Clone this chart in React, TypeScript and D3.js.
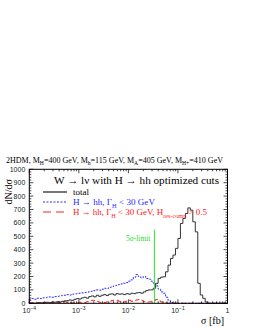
import React, { useEffect, useRef } from "react";
import * as d3 from "d3";

// histogram binning: log-uniform bins from 1e-4 to 1 fb
const binsPerDecade = 20;
const xDomain = [1e-4, 1];

// bin contents (80 bins)
const totalCounts = [
  0, 2, 0, 3, 5, 2, 5, 8, 5, 10, 8, 12, 10, 15, 18, 20, 25, 22, 30, 35,
  32, 40, 45, 38, 50, 55, 48, 60, 52, 60, 65, 58, 68, 70, 62, 72, 68, 70, 65, 72,
  68, 75, 72, 78, 80, 75, 85, 95, 100, 100, 112, 149, 186, 195, 198, 235, 285, 335, 360, 410,
  484, 596, 633, 670, 712, 695, 608, 533, 149, 62, 37, 10, 0, 0, 0, 0, 0, 0, 0, 0,
];
const hhCounts = [
  30, 35, 30, 38, 35, 40, 42, 45, 48, 45, 50, 52, 55, 58, 60, 65, 62, 68, 70, 72,
  75, 78, 80, 82, 88, 90, 95, 100, 98, 105, 112, 110, 118, 125, 130, 135, 140, 145, 150, 155,
  165, 175, 195, 215, 200, 190, 200, 185, 180, 165, 150, 130, 105, 85, 75, 45, 20, 5, 0, 0,
  0, 0, 0, 0, 0, 0, 0, 0, 0, 0, 0, 0, 0, 0, 0, 0, 0, 0, 0, 0,
];
const resCompCounts = [
  5, 3, 8, 5, 3, 6, 8, 4, 5, 8, 10, 6, 4, 8, 12, 6, 5, 3, 2, 4,
  8, 5, 6, 12, 18, 22, 20, 14, 8, 10, 6, 10, 12, 20, 25, 22, 15, 8, 10, 18,
  22, 15, 20, 25, 28, 22, 12, 8, 10, 15, 20, 28, 18, 10, 5, 2, 0, 0, 0, 0,
  0, 0, 0, 0, 0, 0, 0, 0, 0, 0, 0, 0, 0, 0, 0, 0, 0, 0, 0, 0,
];

const yTicks = [0, 100, 200, 300, 400, 500, 600, 700, 800, 900, 1000];
const xTickExponents = [-4, -3, -2, -1, 0];

const limitSigma = 0.0335;
const limitHeight = 550;

type Part = [string, "n" | "sub" | "sup"];

// text with sub/superscripts as tspans; optional fitted width
function richText(
  g: any,
  x: number,
  y: number,
  parts: Part[],
  size: number,
  fill: string,
  anchor = "start",
  width?: number
) {
  const t = g
    .append("text")
    .attr("x", x)
    .attr("y", y)
    .attr("font-family", "Liberation Serif, Times New Roman, serif")
    .attr("font-size", size)
    .attr("fill", fill)
    .attr("text-anchor", anchor);
  if (width) t.attr("textLength", width).attr("lengthAdjust", "spacingAndGlyphs");
  let shift = 0;
  parts.forEach(([s, kind]) => {
    const target = kind === "sub" ? size * 0.3 : kind === "sup" ? -size * 0.4 : 0;
    t.append("tspan")
      .attr("dy", target - shift)
      .attr("font-size", kind === "n" ? size : size * 0.7)
      .text(s);
    shift = target;
  });
  return t;
}

const App = () => {
  const chartRef = useRef<SVGSVGElement>(null);

  useEffect(() => {
    const svg = d3.select(chartRef.current);
    svg.selectAll("*").remove();

    const left = 29.3, right = 227.5, top = 169.3, bottom = 303.3;

    const x = d3.scaleLog().domain(xDomain).range([left, right]);
    const y = d3.scaleLinear().domain([0, 1000]).range([bottom, top]);

    const edges = d3.range(totalCounts.length + 1).map((i) => Math.pow(10, -4 + i / binsPerDecade));

    const stepLine = (counts: number[]) => {
      const pts: [number, number][] = [[edges[0], 0]];
      counts.forEach((c, i) => pts.push([edges[i], c]));
      pts.push([edges[counts.length], counts[counts.length - 1]]);
      return d3
        .line<[number, number]>()
        .x((d) => x(d[0]))
        .y((d) => y(d[1]))
        .curve(d3.curveStepAfter)(pts);
    };

    const sans = "Liberation Sans, Arial, sans-serif";

    // histograms
    svg.append("path")
      .attr("d", stepLine(resCompCounts))
      .attr("fill", "none")
      .attr("stroke", "#ff2020")
      .attr("stroke-width", 1)
      .attr("stroke-dasharray", "5,3");

    svg.append("path")
      .attr("d", stepLine(hhCounts))
      .attr("fill", "none")
      .attr("stroke", "#2a2aff")
      .attr("stroke-width", 1)
      .attr("stroke-dasharray", "2,1.5");

    svg.append("path")
      .attr("d", stepLine(totalCounts))
      .attr("fill", "none")
      .attr("stroke", "#333")
      .attr("stroke-width", 1);

    // 5 sigma limit
    svg.append("line")
      .attr("x1", x(limitSigma)).attr("x2", x(limitSigma))
      .attr("y1", y(0)).attr("y2", y(limitHeight))
      .attr("stroke", "#22ee22")
      .attr("stroke-width", 1);
    richText(svg, x(limitSigma) - 4, 241, [["5σ-limit", "n"]], 7.5, "#22dd22", "end");

    // frame
    svg.append("rect")
      .attr("x", left).attr("y", top)
      .attr("width", right - left).attr("height", bottom - top)
      .attr("fill", "none").attr("stroke", "#000").attr("stroke-width", 1);

    const ticks = svg.append("g").attr("stroke", "#000").attr("stroke-width", 0.7);

    // y ticks (major every 100, minor every 20)
    d3.range(0, 1001, 20).forEach((v) => {
      const len = v % 100 === 0 ? 4 : 2;
      ticks.append("line").attr("x1", left).attr("x2", left + len).attr("y1", y(v)).attr("y2", y(v));
      ticks.append("line").attr("x1", right).attr("x2", right - len).attr("y1", y(v)).attr("y2", y(v));
    });

    // x log ticks
    xTickExponents.forEach((e) => {
      if (e === 0) return;
      for (let m = 1; m <= 9; m++) {
        const v = m * Math.pow(10, e);
        const len = m === 1 ? 4 : 2;
        ticks.append("line").attr("x1", x(v)).attr("x2", x(v)).attr("y1", bottom).attr("y2", bottom - len);
        ticks.append("line").attr("x1", x(v)).attr("x2", x(v)).attr("y1", top).attr("y2", top + len);
      }
    });

    // y tick labels
    svg.append("g")
      .selectAll("text")
      .data(yTicks)
      .join("text")
      .attr("x", left - 4)
      .attr("y", (d) => y(d) + 2.5)
      .attr("text-anchor", "end")
      .attr("font-family", sans)
      .attr("font-size", 7)
      .attr("fill", "#222")
      .text((d) => d);

    // x tick labels
    xTickExponents.forEach((e) => {
      const t = svg.append("text")
        .attr("x", x(Math.pow(10, e)))
        .attr("y", 313)
        .attr("text-anchor", "middle")
        .attr("font-family", sans)
        .attr("font-size", 7)
        .attr("fill", "#222");
      if (e === 0) {
        t.text("1");
      } else {
        t.append("tspan").text("10");
        t.append("tspan").attr("dy", -3).attr("font-size", 5).text("\u2212" + -e);
      }
    });

    // axis titles
    richText(svg, 224, 324, [["σ [fb]", "n"]], 10, "#000", "end");
    richText(svg, 0, 0, [["dN/dσ", "n"]], 10, "#000", "end")
      .attr("transform", "translate(12,179) rotate(-90)");

    // headers
    richText(svg, 6, 163, [
      ["2HDM, M", "n"], ["H", "sub"], ["=400 GeV, M", "n"], ["h", "sub"],
      ["=115 GeV, M", "n"], ["A", "sub"], ["=405 GeV, M", "n"], ["H+", "sub"], ["=410 GeV", "n"],
    ], 8, "#000", "start", 217);
    richText(svg, 54, 184, [["W → lν with H → hh optimized cuts", "n"]], 10.5, "#000", "start", 165);

    // legend
    const legend = [
      { parts: [["total", "n"]] as Part[], color: "#555", text: "#000", dash: null, y: 192, w: 0 },
      { parts: [["H → hh, Γ", "n"], ["H", "sub"], [" < 30 GeV", "n"]] as Part[], color: "#2a2aff", text: "#2a2aff", dash: "2,1.5", y: 202, w: 82 },
      { parts: [["H → hh, Γ", "n"], ["H", "sub"], [" < 30 GeV, H", "n"], ["res-comp", "sub"], [" > 0.5", "n"]] as Part[], color: "#ff2020", text: "#ff2020", dash: "8,5", y: 212, w: 134 },
    ];
    legend.forEach((l) => {
      svg.append("line")
        .attr("x1", 43).attr("x2", 67).attr("y1", l.y).attr("y2", l.y)
        .attr("stroke", l.color)
        .attr("stroke-width", l.dash ? 1 : 1.6)
        .attr("stroke-dasharray", l.dash);
      richText(svg, 73, l.y + 3, l.parts, 9, l.text, "start", l.w || undefined);
    });
  }, []);

  return (
    <svg
      ref={chartRef}
      width={253}
      height={327}
      style={{ position: "absolute", left: 0, top: 0, background: "#fff" }}
    />
  );
};

export default App;
